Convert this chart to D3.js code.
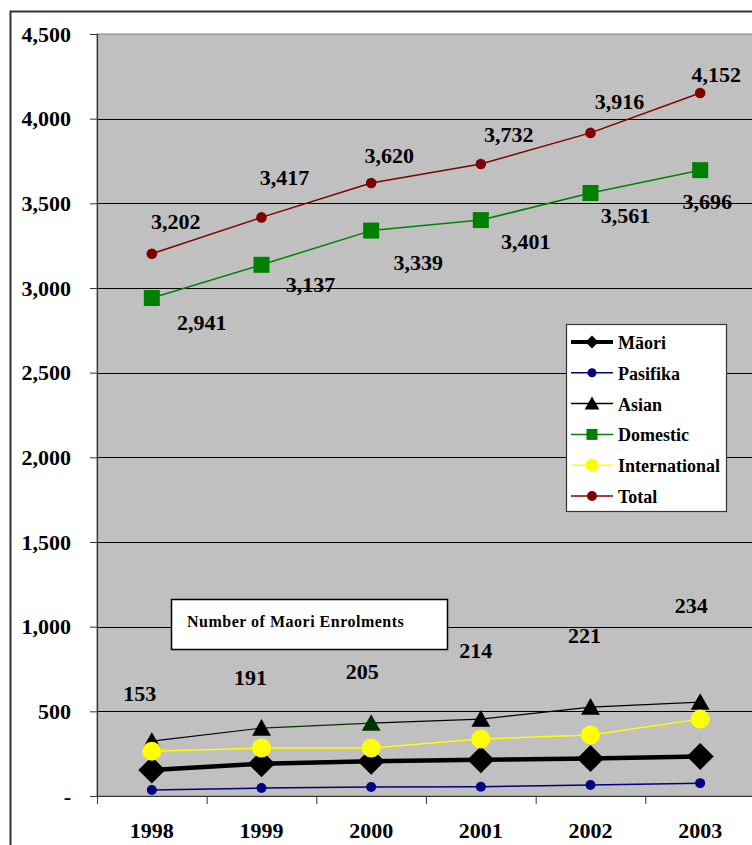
<!DOCTYPE html>
<html>
<head>
<meta charset="utf-8">
<script src="https://cdn.jsdelivr.net/npm/d3@7"></script>
<style>
  html, body { margin: 0; padding: 0; background: #fff; }
  svg { display: block; }
  svg text { font-family: "Liberation Serif", "DejaVu Serif", serif !important; font-weight: bold; fill: #000; }
</style>
</head>
<body>
<svg id="chart" width="752" height="845"></svg>
<script>
// Tertiary enrolments by group, 1998-2003
const years = ["1998", "1999", "2000", "2001", "2002", "2003"];
const maori = [153, 191, 205, 214, 221, 234];
const pasifika = [35, 47, 53, 55, 65, 76];
const asian = [324, 401, 430, 454, 525, 554];
const domestic = [2941, 3137, 3339, 3401, 3561, 3696];
const international = [265, 283, 283, 336, 360, 454];
const total = [3202, 3417, 3620, 3732, 3916, 4152];
const yTicks = [0, 500, 1000, 1500, 2000, 2500, 3000, 3500, 4000, 4500];
const seriesNames = ["Māori", "Pasifika", "Asian", "Domestic", "International", "Total"];
const boxTitle = "Number of Maori Enrolments";

// Asian series: the 2000 point and the segment leading into it are dark green
const asianPointColors = ["#000", "#000", "#003300", "#000", "#000", "#000"];

// Label offsets (px) from each labelled point
const totalLabelDx = [24, 23, 18, 28, 29, 16];
const totalLabelDy = [-32, -40, -28, -30, -31, -18];
const domesticLabelDx = [50, 49, 47, 45, 35, 7];
const domesticLabelDy = [25, 20, 32, 21, 22, 31];
const maoriLabelDx = [-12, -11, -9, -5, -6, -9];
const maoriLabelDy = [-77, -86, -90, -109, -123, -151];

const FONT = "'Liberation Serif', 'DejaVu Serif', serif";
const svg = d3.select("#chart");
const plot = { left: 97, right: 755, top: 34, bottom: 796 };

// outer chart frame
svg.append("rect")
  .attr("x", 10.5).attr("y", 11.5)
  .attr("width", 800).attr("height", 900)
  .attr("fill", "#fff").attr("stroke", "#333").attr("stroke-width", 2);

const x = d3.scaleBand().domain(years).range([plot.left, plot.right]);
const cx = d => x(d) + x.bandwidth() / 2;
const y = d3.scaleLinear().domain([0, 4500]).range([plot.bottom, plot.top]);

// plot background
svg.append("rect")
  .attr("x", plot.left).attr("y", plot.top)
  .attr("width", plot.right - plot.left).attr("height", plot.bottom - plot.top)
  .attr("fill", "#c0c0c0").attr("stroke", "#808080").attr("stroke-width", 1);

// gridlines
svg.append("g").selectAll("line")
  .data(yTicks.filter(t => t > 0 && t < 4500))
  .join("line")
  .attr("x1", plot.left).attr("x2", plot.right)
  .attr("y1", d => Math.round(y(d)) + 0.5).attr("y2", d => Math.round(y(d)) + 0.5)
  .attr("stroke", "#000").attr("stroke-width", 1);

// y axis
const fmt = d3.format(",");
const yAxis = d3.axisLeft(y).tickValues(yTicks).tickSize(7).tickPadding(19)
  .tickFormat(d => d === 0 ? "-" : fmt(d));
const gy = svg.append("g").attr("transform", `translate(${plot.left},0)`).call(yAxis)
  .attr("font-family", null).attr("font-size", null);
gy.select(".domain").attr("stroke", "#333").attr("stroke-width", 1.2);
gy.selectAll(".tick line").attr("stroke", "#333");
gy.selectAll(".tick text")
  .style("font-family", FONT).style("font-size", "22px").style("font-weight", "bold")
  .attr("fill", "#000");

// x axis with ticks between categories
const gx = svg.append("g").attr("transform", `translate(0,${plot.bottom})`);
gx.append("line").attr("x1", plot.left).attr("x2", plot.right)
  .attr("y1", 0.5).attr("y2", 0.5).attr("stroke", "#333").attr("stroke-width", 1.2);
gx.selectAll("line.tk").data(years).join("line").attr("class", "tk")
  .attr("x1", d => x(d) + 0.5).attr("x2", d => x(d) + 0.5)
  .attr("y1", 0).attr("y2", 8).attr("stroke", "#333");
gx.selectAll("text").data(years).join("text")
  .attr("x", d => cx(d)).attr("y", 34)
  .attr("text-anchor", "middle").attr("dominant-baseline", "central")
  .style("font-family", FONT).style("font-size", "22px").text(d => d);

// marker shapes
function markerPath(kind, s) {
  if (kind === "diamond") return `M0,${-s}L${s},0L0,${s}L${-s},0Z`;
  if (kind === "triangle") return `M0,${-s}L${s * 1.05},${s * 0.85}L${-s * 1.05},${s * 0.85}Z`;
  if (kind === "square") return `M${-s},${-s}H${s}V${s}H${-s}Z`;
  return d3.arc()({ innerRadius: 0, outerRadius: s, startAngle: 0, endAngle: 2 * Math.PI });
}

const series = [
  { name: seriesNames[0], values: maori, color: "#000", width: 4.5, marker: "diamond", size: 13.5, lsize: 6.5 },
  { name: seriesNames[1], values: pasifika, color: "#000080", width: 1.5, marker: "circle", size: 5, lsize: 4.5 },
  { name: seriesNames[2], values: asian, color: "#000", width: 1.2, marker: "triangle", size: 9, lsize: 7, pointColors: asianPointColors },
  { name: seriesNames[3], values: domestic, color: "#008000", width: 1.5, marker: "square", size: 8, lsize: 5.5 },
  { name: seriesNames[4], values: international, color: "#ffff00", width: 1.5, marker: "circle", size: 9.5, lsize: 6.5 },
  { name: seriesNames[5], values: total, color: "#800000", width: 1.5, marker: "circle", size: 5.3, lsize: 5 }
];

const gSeries = svg.append("g");
series.forEach(s => {
  const g = gSeries.append("g");
  const pts = s.values.map((v, i) => [cx(years[i]), y(v)]);
  const segs = d3.pairs(pts.map((p, i) => ({ p, i })));
  g.selectAll("path.seg").data(segs).join("path").attr("class", "seg")
    .attr("d", ([a, b]) => d3.line()([a.p, b.p]))
    .attr("fill", "none")
    .attr("stroke", ([, b]) => s.pointColors ? s.pointColors[b.i] : s.color)
    .attr("stroke-width", s.width);
  g.selectAll("path.mk").data(pts).join("path").attr("class", "mk")
    .attr("transform", d => `translate(${d[0]},${d[1]})`)
    .attr("d", markerPath(s.marker, s.size))
    .attr("fill", (d, i) => s.pointColors ? s.pointColors[i] : s.color);
});

// data labels
function labels(values, dxs, dys) {
  svg.append("g").selectAll("text").data(values).join("text")
    .attr("x", (v, i) => cx(years[i]) + dxs[i])
    .attr("y", (v, i) => y(v) + dys[i])
    .attr("text-anchor", "middle").attr("dominant-baseline", "central")
    .style("font-family", FONT).style("font-size", "22px").text(v => fmt(v));
}
labels(total, totalLabelDx, totalLabelDy);
labels(domestic, domesticLabelDx, domesticLabelDy);
labels(maori, maoriLabelDx, maoriLabelDy);

// title box inside the plot
const tb = svg.append("g").attr("transform", "translate(171,599)");
tb.append("rect").attr("x", 0.5).attr("y", 0.5).attr("width", 276).attr("height", 50)
  .attr("fill", "#fff").attr("stroke", "#000").attr("stroke-width", 1.5);
tb.append("text").attr("x", 16).attr("y", 22).attr("dominant-baseline", "central")
  .style("font-family", FONT).style("font-size", "16px").style("letter-spacing", "0.5px")
  .text(boxTitle);

// legend
const lg = svg.append("g").attr("transform", "translate(566,324)");
lg.append("rect").attr("x", 0.5).attr("y", 0.5).attr("width", 160).attr("height", 187)
  .attr("fill", "#fff").attr("stroke", "#333").attr("stroke-width", 1.2);
const rows = lg.selectAll("g.row").data(series).join("g").attr("class", "row")
  .attr("transform", (d, i) => `translate(0,${18 + i * 30.8})`);
rows.append("line").attr("x1", 5).attr("x2", 47).attr("y1", 0).attr("y2", 0)
  .attr("stroke", d => d.color).attr("stroke-width", d => d.width === 4.5 ? 4 : 1.5);
rows.append("path").attr("transform", "translate(26,0)")
  .attr("d", d => markerPath(d.marker, d.lsize)).attr("fill", d => d.color);
rows.append("text").attr("x", 52).attr("y", 1).attr("dominant-baseline", "central")
  .style("font-family", FONT).style("font-size", "18px").text(d => d.name);
</script>
</body>
</html>
